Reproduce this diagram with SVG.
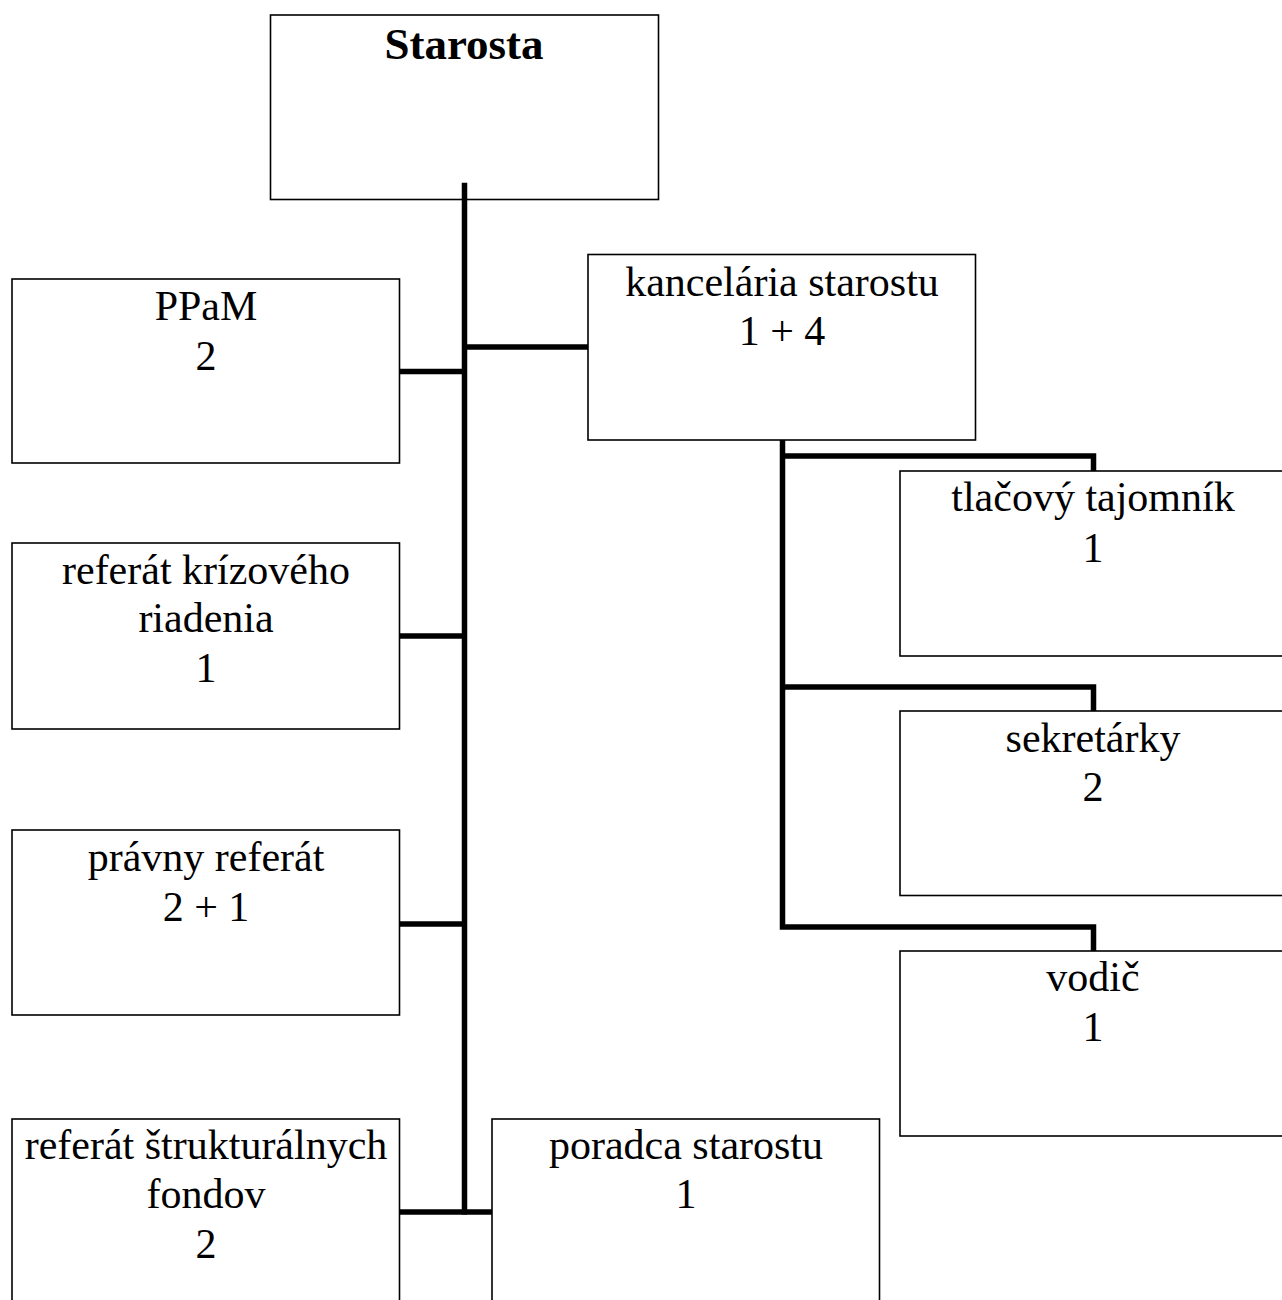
<svg xmlns="http://www.w3.org/2000/svg" width="1282" height="1300" viewBox="0 0 1282 1300">
<style>
.box{fill:#fff;stroke:#000;stroke-width:1.6}
.t{font-family:"Liberation Serif","Times New Roman",serif;font-size:42px;fill:#000;text-anchor:middle}
.b{font-weight:bold;font-size:45px}
.c{fill:none;stroke:#000;stroke-width:5.5;stroke-linecap:butt;stroke-linejoin:miter}
</style>
<rect width="1282" height="1300" fill="#fff"/>
<g id="n-starosta"><rect class="box" x="270.5" y="15" width="388" height="184.5"/><text class="t b" x="464" y="59">Starosta</text></g>
<g id="n-ppam"><rect class="box" x="12" y="279" width="387.5" height="184"/><text class="t" x="206" y="320">PPaM</text><text class="t" x="206" y="370">2</text></g>
<g id="n-krizove"><rect class="box" x="12" y="543" width="387.5" height="186"/><text class="t" x="206" y="583.5">referát krízového</text><text class="t" x="206" y="632">riadenia</text><text class="t" x="206" y="682">1</text></g>
<g id="n-pravny"><rect class="box" x="12" y="830" width="387.5" height="185"/><text class="t" x="206" y="871">právny referát</text><text class="t" x="206" y="921">2 + 1</text></g>
<g id="n-strukt"><rect class="box" x="12" y="1119" width="387.5" height="190"/><text class="t" x="206" y="1158.5">referát štrukturálnych</text><text class="t" x="206" y="1207.5">fondov</text><text class="t" x="206" y="1257.5">2</text></g>
<g id="n-poradca"><rect class="box" x="492" y="1119" width="387.5" height="190"/><text class="t" x="686" y="1158.5">poradca starostu</text><text class="t" x="686" y="1207.5">1</text></g>
<g id="n-kancelaria"><rect class="box" x="588" y="254.5" width="387.5" height="185.5"/><text class="t" x="782" y="296">kancelária starostu</text><text class="t" x="782" y="345">1 + 4</text></g>
<g id="n-tlacovy"><rect class="box" x="900" y="471" width="388" height="185"/><text class="t" x="1093" y="511">tlačový tajomník</text><text class="t" x="1093" y="562">1</text></g>
<g id="n-sekretarky"><rect class="box" x="900" y="711" width="388" height="184.5"/><text class="t" x="1093" y="752">sekretárky</text><text class="t" x="1093" y="801">2</text></g>
<g id="n-vodic"><rect class="box" x="900" y="951" width="388" height="185"/><text class="t" x="1093" y="991">vodič</text><text class="t" x="1093" y="1041">1</text></g>
<g id="connectors">
<path class="c" d="M464.5 182.7V1214.5"/>
<path class="c" d="M400 371.5H464.5"/>
<path class="c" d="M464.5 347H588"/>
<path class="c" d="M400 636H464.5"/>
<path class="c" d="M400 924H464.5"/>
<path class="c" d="M400 1212H492"/>
<path class="c" d="M782.5 440V927H1093.5V951"/>
<path class="c" d="M782.5 456H1093.5V471"/>
<path class="c" d="M782.5 687H1093.5V711"/>
</g>
</svg>
